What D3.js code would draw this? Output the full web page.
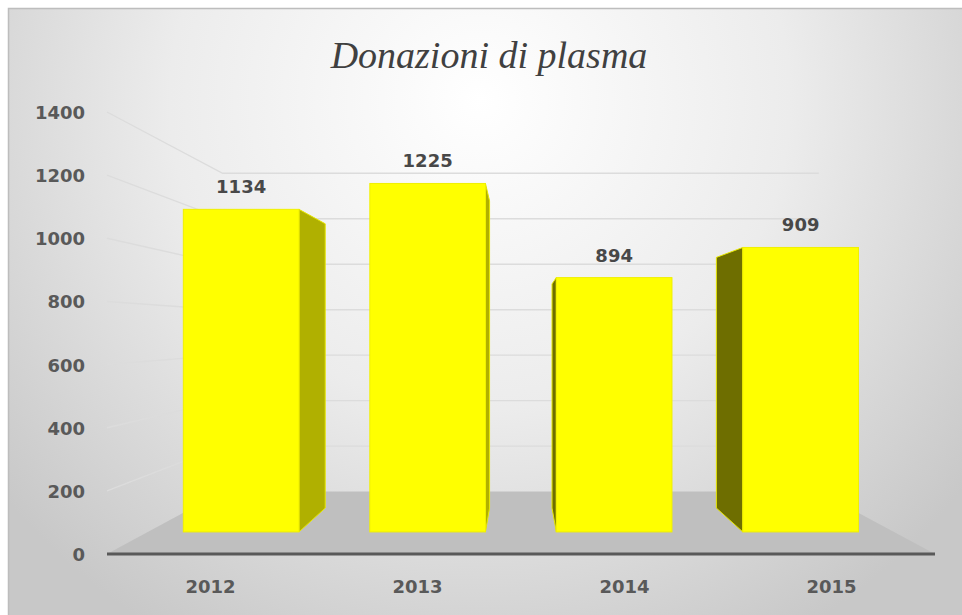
<!DOCTYPE html>
<html>
<head>
<meta charset="utf-8">
<script src="https://cdn.jsdelivr.net/npm/d3@7"></script>
<style>
  html, body { margin: 0; padding: 0; background: #ffffff; }
  svg { display: block; }
</style>
</head>
<body>
<svg id="chart" width="962" height="615"></svg>
<script>
// ---- data ----
const categories = ["2012", "2013", "2014", "2015"];
const barValues = [1134, 1225, 894, 1000];
const valueLabels = ["1134", "1225", "894", "909"];
const yTicks = [0, 200, 400, 600, 800, 1000, 1200, 1400];
const titleText = "Donazioni di plasma";

// ---- layout ----
const W = 962, H = 615;
const svg = d3.select("#chart");
const defs = svg.append("defs");

const grad = defs.append("radialGradient")
  .attr("id", "bg").attr("gradientUnits", "userSpaceOnUse")
  .attr("cx", 480).attr("cy", 100).attr("r", 620);
grad.append("stop").attr("offset", 0).attr("stop-color", "#ffffff");
grad.append("stop").attr("offset", 0.5).attr("stop-color", "#ececec");
grad.append("stop").attr("offset", 1).attr("stop-color", "#c8c8c8");

svg.append("rect").attr("x", 8).attr("y", 8).attr("width", W).attr("height", H)
  .attr("fill", "url(#bg)");
svg.append("path").attr("d", `M8.5,${H} L8.5,8.5 L${W},8.5`)
  .attr("fill", "none").attr("stroke", "#bdbdbd").attr("stroke-width", 1.5);

// front-plane scales
const x = d3.scaleBand().domain(categories).range([107, 935])
  .paddingInner(0.38).paddingOuter(0.19);
const y = d3.scaleLinear().domain([0, 1400]).range([554, 112]);

// perspective projection
const vp = [520, 331];
const kFront = 1, kBack = 0.72, kBarFront = 0.901, kBarBack = 0.794;
const P = (X, Y, k) => [vp[0] + (X - vp[0]) * k, vp[1] + (Y - vp[1]) * k];
const poly = pts => "M" + pts.map(p => p[0].toFixed(2) + "," + p[1].toFixed(2)).join("L") + "Z";
const line = pts => "M" + pts.map(p => p[0].toFixed(2) + "," + p[1].toFixed(2)).join("L");

const x0 = x.range()[0], x1 = x.range()[1];

// gridlines: left wall + back wall
svg.append("g").selectAll("path").data(yTicks.filter(t => t > 0)).join("path")
  .attr("d", t => line([P(x0, y(t), kFront), P(x0, y(t), kBack), P(x1, y(t), kBack)]))
  .attr("fill", "none").attr("stroke", "#dcdcdc").attr("stroke-width", 1.4);

// floor
svg.append("path")
  .attr("d", poly([P(x0, y(0), kFront), P(x1, y(0), kFront), P(x1, y(0), kBack), P(x0, y(0), kBack)]))
  .attr("fill", "#bfbfbf");

// front axis line
svg.append("line")
  .attr("x1", x0).attr("x2", x1).attr("y1", y(0)).attr("y2", y(0))
  .attr("stroke", "#595959").attr("stroke-width", 3);

// bars
const bars = svg.append("g");
categories.forEach((c, i) => {
  const v = barValues[i];
  const bl = x(c), br = x(c) + x.bandwidth();
  const g = bars.append("g");
  let sx, col;
  if (br < vp[0]) { sx = br; col = "#b0b000"; }
  else if (bl > vp[0]) { sx = bl; col = "#6e6e00"; }
  if (sx !== undefined) {
    g.append("path")
      .attr("d", poly([P(sx, y(v), kBarFront), P(sx, y(v), kBarBack), P(sx, y(0), kBarBack), P(sx, y(0), kBarFront)]))
      .attr("fill", col).attr("stroke", "#e6e600").attr("stroke-width", 1).attr("stroke-linejoin", "round");
  }
  const a = P(bl, y(v), kBarFront), b = P(br, y(0), kBarFront);
  g.append("rect")
    .attr("x", a[0]).attr("y", a[1]).attr("width", b[0] - a[0]).attr("height", b[1] - a[1])
    .attr("fill", "#ffff00").attr("stroke", "#f0f000").attr("stroke-width", 1);
  g.append("text")
    .attr("x", (a[0] + b[0]) / 2).attr("y", a[1] - 16)
    .attr("text-anchor", "middle")
    .attr("font-family", "DejaVu Sans").attr("font-weight", "bold").attr("font-size", 18)
    .attr("fill", "#484848")
    .text(valueLabels[i]);
});

// y tick labels
svg.append("g").selectAll("text").data(yTicks).join("text")
  .attr("x", 85).attr("y", t => y(t) + 7)
  .attr("text-anchor", "end")
  .attr("font-family", "DejaVu Sans").attr("font-weight", "bold").attr("font-size", 18)
  .attr("fill", "#595959")
  .text(t => t);

// category labels
svg.append("g").selectAll("text").data(categories).join("text")
  .attr("x", c => x(c) + x.bandwidth() / 2).attr("y", 593)
  .attr("text-anchor", "middle")
  .attr("font-family", "DejaVu Sans").attr("font-weight", "bold").attr("font-size", 18)
  .attr("fill", "#595959")
  .text(c => c);

// title
svg.append("text")
  .attr("x", 489).attr("y", 68)
  .attr("text-anchor", "middle")
  .attr("font-family", "Liberation Serif").attr("font-style", "italic").attr("font-size", 38)
  .attr("fill", "#404040")
  .text(titleText);
</script>
</body>
</html>
